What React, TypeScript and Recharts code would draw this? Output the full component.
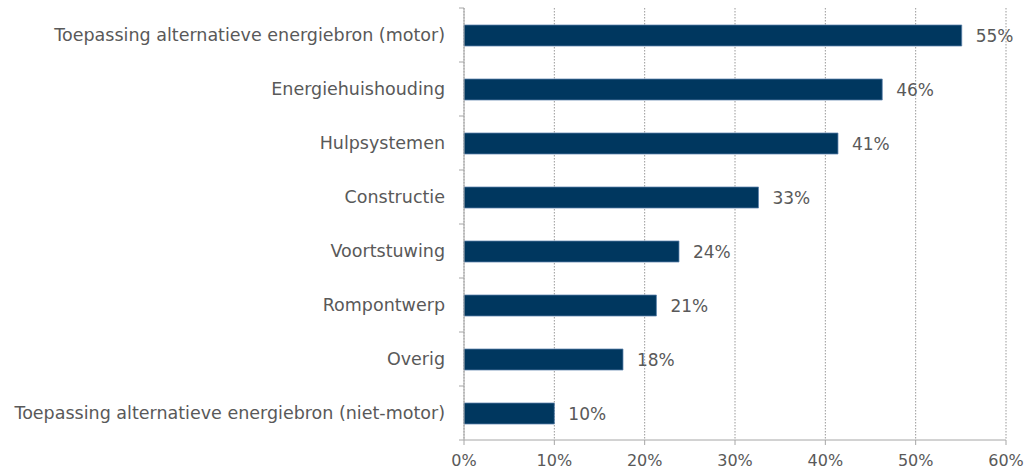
import React from "react"
import { BarChart, Bar, XAxis, YAxis, CartesianGrid, LabelList } from "recharts"

const categories = [
  "Toepassing alternatieve energiebron (motor)",
  "Energiehuishouding",
  "Hulpsystemen",
  "Constructie",
  "Voortstuwing",
  "Rompontwerp",
  "Overig",
  "Toepassing alternatieve energiebron (niet-motor)",
]
const shares = [55.1, 46.3, 41.4, 32.6, 23.8, 21.3, 17.6, 10.0]
const xTicks = [0, 10, 20, 30, 40, 50, 60]

const data = categories.map((name, i) => ({ name, value: shares[i] }))

const W = 1030
const H = 470
const xAxisHeight = 30
const margin = { top: 8, right: 24, bottom: 0, left: 0 }
const axisWidth = 464
const band = (H - margin.top - xAxisHeight) / categories.length
const textColor = "#595959"
const axisColor = "#a6a6a6"
const font = "'DejaVu Sans', Verdana, sans-serif"

function CategoryTick(props: any) {
  const { x, y, payload, index } = props
  const ax = x + 8
  return (
    <g>
      <line x1={ax - 5} x2={ax} y1={y - band / 2} y2={y - band / 2} stroke={axisColor} />
      {index === categories.length - 1 && (
        <line x1={ax - 5} x2={ax} y1={y + band / 2} y2={y + band / 2} stroke={axisColor} />
      )}
      <text x={ax - 19} y={y} dy="0.35em" textAnchor="end" fill={textColor} fontSize={17.5} fontFamily={font}>
        {payload.value}
      </text>
    </g>
  )
}

export default function App() {
  return (
    <div style={{ position: "absolute", left: 0, top: 0, width: W, height: H, background: "#fff" }}>
      <BarChart width={W} height={H} data={data} layout="vertical" margin={margin}>
        <CartesianGrid horizontal={false} stroke="#999" strokeDasharray="1.5 1.5" />
        <XAxis
          type="number"
          domain={[0, 60]}
          ticks={xTicks}
          interval={0}
          height={xAxisHeight}
          tickFormatter={(v) => `${v}%`}
          stroke={axisColor}
          tickSize={5}
          tickMargin={10}
          tick={{ fill: textColor, fontSize: 16, fontFamily: font }}
        />
        <YAxis
          type="category"
          dataKey="name"
          width={axisWidth}
          stroke={axisColor}
          tickLine={false}
          interval={0}
          tick={<CategoryTick />}
        />
        <Bar dataKey="value" fill="#00375f" stroke="#5b82ab" strokeWidth={0.75} barSize={21} isAnimationActive={false}>
          <LabelList
            dataKey="value"
            position="right"
            offset={14}
            formatter={(v: any) => `${Math.round(v)}%`}
            style={{ fill: textColor, fontSize: 17, fontFamily: font }}
          />
        </Bar>
      </BarChart>
    </div>
  )
}
